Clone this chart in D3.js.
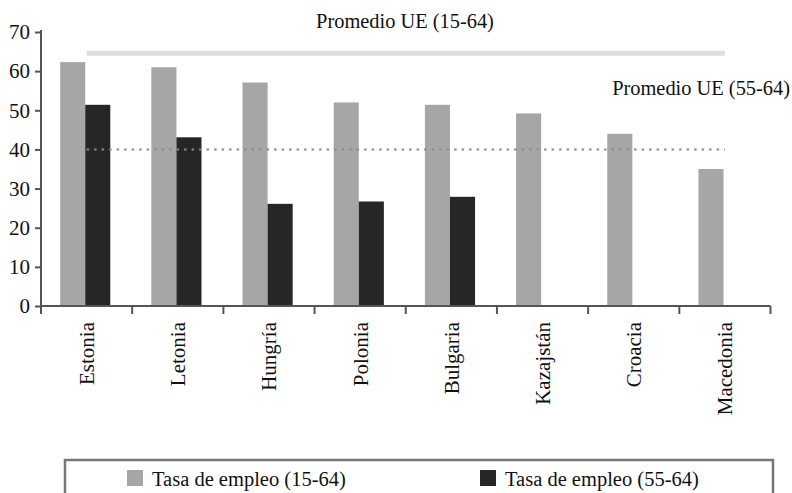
<!DOCTYPE html>
<html>
<head>
<meta charset="utf-8">
<script src="https://cdn.jsdelivr.net/npm/d3@7"></script>
<style>
  html, body { margin: 0; padding: 0; background: #fff; }
  svg text { font-family: "Liberation Serif", "Times New Roman", Times, serif; fill: #111; }
</style>
</head>
<body>
<svg id="chart" width="792" height="493"></svg>
<script>
// Employment rates by country, two age groups
const countries = ["Estonia", "Letonia", "Hungría", "Polonia", "Bulgaria", "Kazajstán", "Croacia", "Macedonia"];
const rate1564 = [62.3, 61.0, 57.1, 52.0, 51.4, 49.2, 44.0, 35.0];
const rate5564 = [51.4, 43.1, 26.1, 26.7, 27.9, null, null, null];
const seriesNames = ["Tasa de empleo (15-64)", "Tasa de empleo (55-64)"];
const seriesColors = ["#a6a6a6", "#262626"];
const euAvg1564 = 64.6;
const euAvg5564 = 40;
const refLabels = ["Promedio UE (15-64)", "Promedio UE (55-64)"];
const yTicks = [0, 10, 20, 30, 40, 50, 60, 70];

const svg = d3.select("#chart");
const plot = { left: 41, right: 770.5, top: 32, bottom: 306 };

const x = d3.scaleBand().domain(countries).range([plot.left, plot.right]).padding(0);
const bw = x.bandwidth();
const xSub = d3.scaleBand().domain([0, 1]).range([bw * 0.21, bw * 0.76]).padding(0);
const y = d3.scaleLinear().domain([0, 70]).range([plot.bottom, plot.top]);

// bars
const series = [rate1564, rate5564];
series.forEach((vals, si) => {
  svg.append("g")
    .selectAll("rect")
    .data(countries.map((c, i) => ({ c, v: vals[i] })).filter(d => d.v != null))
    .join("rect")
    .attr("x", d => x(d.c) + xSub(si))
    .attr("width", xSub.bandwidth())
    .attr("y", d => y(d.v))
    .attr("height", d => y(0) - y(d.v))
    .attr("fill", seriesColors[si]);
});

// EU average reference lines, from first to last category centre
const x0 = x(countries[0]) + bw / 2;
const x1 = x(countries[countries.length - 1]) + bw / 2;
svg.append("line")
  .attr("x1", x0).attr("x2", x1)
  .attr("y1", y(euAvg1564)).attr("y2", y(euAvg1564))
  .attr("stroke", "#dedede").attr("stroke-width", 5);
svg.append("line")
  .attr("x1", x0).attr("x2", x1)
  .attr("y1", y(euAvg5564)).attr("y2", y(euAvg5564))
  .attr("stroke", "#8a8a8a").attr("stroke-width", 2)
  .attr("stroke-dasharray", "2.5,5");

svg.append("text")
  .attr("x", 405).attr("y", 28)
  .attr("text-anchor", "middle")
  .attr("font-size", 20.4)
  .text(refLabels[0]);
svg.append("text")
  .attr("x", 790).attr("y", 95)
  .attr("text-anchor", "end")
  .attr("font-size", 20.4)
  .text(refLabels[1]);

// y axis
const yAxis = svg.append("g")
  .attr("transform", `translate(${plot.left},0)`)
  .call(d3.axisLeft(y).tickValues(yTicks).tickSize(6).tickPadding(5).tickSizeOuter(0));
yAxis.attr("font-family", null);
yAxis.select(".domain").remove();
yAxis.append("line")
  .attr("x1", 0).attr("x2", 0)
  .attr("y1", plot.top - 2).attr("y2", plot.bottom + 8)
  .attr("stroke", "#555").attr("stroke-width", 2);
yAxis.selectAll(".tick line").attr("stroke", "#555").attr("stroke-width", 2);
yAxis.selectAll(".tick text")
  .attr("font-size", 21)
  .attr("fill", "#111");

// x axis: ticks at category boundaries
const bounds = countries.map(c => x(c)).concat([plot.right]);
svg.append("line")
  .attr("x1", plot.left).attr("x2", plot.right)
  .attr("y1", plot.bottom).attr("y2", plot.bottom)
  .attr("stroke", "#555").attr("stroke-width", 2);
svg.append("g")
  .selectAll("line")
  .data(bounds.slice(1))
  .join("line")
  .attr("x1", d => d).attr("x2", d => d)
  .attr("y1", plot.bottom).attr("y2", plot.bottom + 8)
  .attr("stroke", "#555").attr("stroke-width", 2);

svg.append("g")
  .selectAll("text")
  .data(countries)
  .join("text")
  .attr("transform", d => `translate(${x(d) + bw / 2},322) rotate(-90)`)
  .attr("text-anchor", "end")
  .attr("dy", "0.35em")
  .attr("font-size", 21)
  .text(d => d);

// legend
const legend = svg.append("g");
legend.append("rect")
  .attr("x", 65).attr("y", 460)
  .attr("width", 708).attr("height", 60)
  .attr("fill", "#fff")
  .attr("stroke", "#777").attr("stroke-width", 2.5);
const legendItems = [
  { sx: 127, tx: 152 },
  { sx: 480, tx: 505 }
];
legendItems.forEach((it, i) => {
  legend.append("rect")
    .attr("x", it.sx).attr("y", 470)
    .attr("width", 16).attr("height", 16)
    .attr("fill", seriesColors[i]);
  legend.append("text")
    .attr("x", it.tx).attr("y", 486)
    .attr("font-size", 20.5)
    .text(seriesNames[i]);
});
</script>
</body>
</html>
